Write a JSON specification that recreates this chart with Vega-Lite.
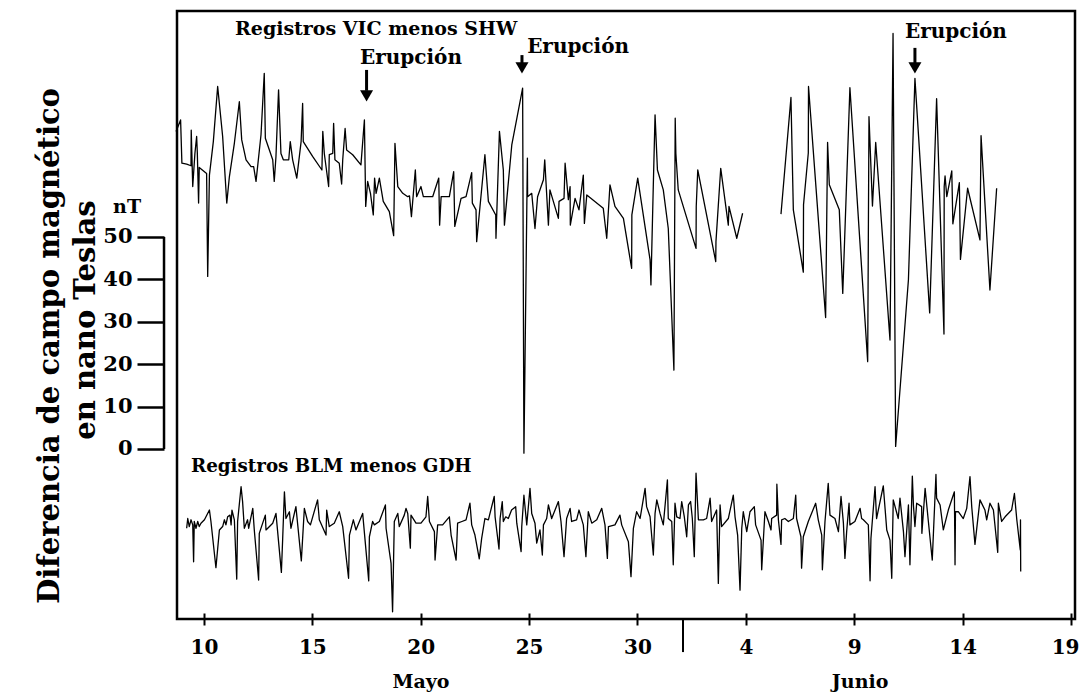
{
  "$schema": "https://vega.github.io/schema/vega-lite/v6.json",
  "width": 898,
  "height": 608,
  "autosize": {"type": "none"},
  "padding": {"left": 177, "top": 11, "right": 5, "bottom": 74},
  "background": "white",
  "config": {"view": {"stroke": "black", "strokeWidth": 2.5}, "font": "DejaVu Serif"},
  "datasets": {
    "series": [
      {"s":"a","d":8.71,"v":74.9},{"s":"a","d":8.92,"v":77.6},{"s":"a","d":8.98,"v":67.4},{"s":"a","d":9.20,"v":67.2},{"s":"a","d":9.40,"v":66.8},{"s":"a","d":9.41,"v":75.2},{"s":"a","d":9.48,"v":61.9},{"s":"a","d":9.58,"v":69.7},{"s":"a","d":9.66,"v":73.7},{"s":"a","d":9.69,"v":70.1},{"s":"a","d":9.75,"v":58.0},{"s":"a","d":9.78,"v":66.4},{"s":"a","d":10.12,"v":65.0},{"s":"a","d":10.17,"v":40.7},{"s":"a","d":10.25,"v":64.6},{"s":"a","d":10.43,"v":72.5},{"s":"a","d":10.63,"v":85.5},{"s":"a","d":10.86,"v":73.7},{"s":"a","d":11.05,"v":58.0},{"s":"a","d":11.17,"v":64.2},{"s":"a","d":11.40,"v":72.1},{"s":"a","d":11.63,"v":81.9},{"s":"a","d":11.74,"v":72.9},{"s":"a","d":11.94,"v":68.2},{"s":"a","d":12.17,"v":66.6},{"s":"a","d":12.29,"v":66.6},{"s":"a","d":12.40,"v":63.1},{"s":"a","d":12.63,"v":74.1},{"s":"a","d":12.78,"v":88.6},{"s":"a","d":12.83,"v":73.3},{"s":"a","d":13.17,"v":68.2},{"s":"a","d":13.24,"v":63.1},{"s":"a","d":13.32,"v":69.0},{"s":"a","d":13.44,"v":84.7},{"s":"a","d":13.55,"v":69.7},{"s":"a","d":13.66,"v":68.2},{"s":"a","d":13.91,"v":68.2},{"s":"a","d":13.98,"v":72.5},{"s":"a","d":14.09,"v":68.2},{"s":"a","d":14.28,"v":63.9},{"s":"a","d":14.48,"v":72.5},{"s":"a","d":14.55,"v":81.5},{"s":"a","d":14.58,"v":72.5},{"s":"a","d":15.01,"v":69.0},{"s":"a","d":15.44,"v":65.8},{"s":"a","d":15.48,"v":74.9},{"s":"a","d":15.55,"v":69.7},{"s":"a","d":15.75,"v":61.9},{"s":"a","d":15.78,"v":69.4},{"s":"a","d":15.94,"v":69.7},{"s":"a","d":15.98,"v":76.8},{"s":"a","d":16.04,"v":68.2},{"s":"a","d":16.24,"v":67.4},{"s":"a","d":16.35,"v":62.5},{"s":"a","d":16.40,"v":68.2},{"s":"a","d":16.51,"v":75.6},{"s":"a","d":16.58,"v":70.5},{"s":"a","d":16.86,"v":69.4},{"s":"a","d":17.24,"v":67.0},{"s":"a","d":17.40,"v":77.6},{"s":"a","d":17.46,"v":57.2},{"s":"a","d":17.55,"v":63.1},{"s":"a","d":17.68,"v":60.3},{"s":"a","d":17.81,"v":55.2},{"s":"a","d":17.87,"v":63.9},{"s":"a","d":17.94,"v":60.3},{"s":"a","d":18.09,"v":63.9},{"s":"a","d":18.27,"v":58.4},{"s":"a","d":18.55,"v":56.0},{"s":"a","d":18.75,"v":50.3},{"s":"a","d":18.81,"v":72.1},{"s":"a","d":18.94,"v":61.9},{"s":"a","d":19.17,"v":60.3},{"s":"a","d":19.40,"v":59.5},{"s":"a","d":19.48,"v":59.7},{"s":"a","d":19.57,"v":54.8},{"s":"a","d":19.75,"v":65.8},{"s":"a","d":19.81,"v":59.5},{"s":"a","d":20.01,"v":61.9},{"s":"a","d":20.12,"v":59.5},{"s":"a","d":20.55,"v":59.5},{"s":"a","d":20.83,"v":63.9},{"s":"a","d":20.87,"v":52.8},{"s":"a","d":20.94,"v":59.5},{"s":"a","d":21.32,"v":59.5},{"s":"a","d":21.52,"v":65.4},{"s":"a","d":21.57,"v":52.5},{"s":"a","d":21.86,"v":59.1},{"s":"a","d":22.09,"v":59.5},{"s":"a","d":22.35,"v":65.2},{"s":"a","d":22.38,"v":58.0},{"s":"a","d":22.55,"v":56.4},{"s":"a","d":22.58,"v":48.9},{"s":"a","d":22.96,"v":69.4},{"s":"a","d":23.12,"v":58.4},{"s":"a","d":23.46,"v":55.2},{"s":"a","d":23.47,"v":49.7},{"s":"a","d":23.63,"v":74.9},{"s":"a","d":23.81,"v":65.8},{"s":"a","d":23.86,"v":52.8},{"s":"a","d":24.20,"v":71.7},{"s":"a","d":24.70,"v":85.1},{"s":"a","d":24.76,"v":-1.0},{"s":"a","d":24.92,"v":68.6},{"s":"a","d":24.93,"v":59.5},{"s":"a","d":25.12,"v":60.3},{"s":"a","d":25.27,"v":52.0},{"s":"a","d":25.39,"v":59.5},{"s":"a","d":25.66,"v":63.5},{"s":"a","d":25.72,"v":68.2},{"s":"a","d":25.89,"v":52.8},{"s":"a","d":25.96,"v":61.1},{"s":"a","d":26.35,"v":54.4},{"s":"a","d":26.38,"v":58.4},{"s":"a","d":26.61,"v":59.1},{"s":"a","d":26.66,"v":67.4},{"s":"a","d":26.81,"v":58.8},{"s":"a","d":26.89,"v":61.9},{"s":"a","d":26.90,"v":52.8},{"s":"a","d":27.12,"v":59.1},{"s":"a","d":27.30,"v":56.4},{"s":"a","d":27.50,"v":64.6},{"s":"a","d":27.55,"v":53.2},{"s":"a","d":27.66,"v":59.9},{"s":"a","d":28.42,"v":56.8},{"s":"a","d":28.58,"v":49.7},{"s":"a","d":28.73,"v":62.3},{"s":"a","d":28.96,"v":57.2},{"s":"a","d":29.35,"v":54.4},{"s":"a","d":29.73,"v":42.6},{"s":"a","d":29.74,"v":55.2},{"s":"a","d":30.01,"v":63.9},{"s":"a","d":30.58,"v":44.6},{"s":"a","d":30.62,"v":38.7},{"s":"a","d":30.73,"v":62.3},{"s":"a","d":30.81,"v":78.8},{"s":"a","d":30.92,"v":65.8},{"s":"a","d":31.19,"v":61.1},{"s":"a","d":31.42,"v":52.0},{"s":"a","d":31.68,"v":18.6},{"s":"a","d":31.74,"v":78.0},{"s":"a","d":31.77,"v":69.7},{"s":"a","d":31.88,"v":61.1},{"s":"a","d":32.70,"v":47.3},{"s":"a","d":32.71,"v":57.2},{"s":"a","d":32.78,"v":65.8},{"s":"a","d":33.61,"v":44.2},{"s":"a","d":33.62,"v":48.9},{"s":"a","d":33.84,"v":66.2},{"s":"a","d":34.19,"v":52.8},{"s":"a","d":34.22,"v":57.2},{"s":"a","d":34.58,"v":49.7},{"s":"a","d":34.85,"v":55.6},
      {"s":"b","d":36.62,"v":55.4},{"s":"b","d":37.08,"v":82.9},{"s":"b","d":37.19,"v":56.4},{"s":"b","d":37.65,"v":41.7},{"s":"b","d":37.66,"v":57.6},{"s":"b","d":37.88,"v":69.8},{"s":"b","d":37.89,"v":85.5},{"s":"b","d":38.68,"v":31.0},{"s":"b","d":38.77,"v":72.3},{"s":"b","d":38.85,"v":62.3},{"s":"b","d":39.31,"v":56.4},{"s":"b","d":39.47,"v":36.7},{"s":"b","d":39.80,"v":85.2},{"s":"b","d":40.62,"v":20.6},{"s":"b","d":40.68,"v":78.4},{"s":"b","d":40.84,"v":57.3},{"s":"b","d":40.99,"v":72.3},{"s":"b","d":41.65,"v":25.7},{"s":"b","d":41.79,"v":98.0},{"s":"b","d":41.91,"v":0.6},{"s":"b","d":42.50,"v":39.9},{"s":"b","d":42.80,"v":87.4},{"s":"b","d":43.48,"v":32.1},{"s":"b","d":43.80,"v":82.6},{"s":"b","d":44.14,"v":27.1},{"s":"b","d":44.15,"v":61.9},{"s":"b","d":44.19,"v":64.4},{"s":"b","d":44.27,"v":59.5},{"s":"b","d":44.50,"v":65.6},{"s":"b","d":44.55,"v":53.1},{"s":"b","d":44.85,"v":62.8},{"s":"b","d":44.90,"v":44.7},{"s":"b","d":45.23,"v":61.5},{"s":"b","d":45.80,"v":49.3},{"s":"b","d":45.85,"v":73.9},{"s":"b","d":46.26,"v":37.5},{"s":"b","d":46.57,"v":61.5},
      {"s":"c","d":9.20,"v":-18.7},{"s":"c","d":9.25,"v":-16.4},{"s":"c","d":9.32,"v":-18.3},{"s":"c","d":9.40,"v":-16.7},{"s":"c","d":9.48,"v":-17.9},{"s":"c","d":9.52,"v":-26.6},{"s":"c","d":9.55,"v":-17.1},{"s":"c","d":9.63,"v":-18.7},{"s":"c","d":9.71,"v":-17.1},{"s":"c","d":9.78,"v":-18.3},{"s":"c","d":9.86,"v":-17.5},{"s":"c","d":10.02,"v":-16.7},{"s":"c","d":10.25,"v":-14.4},{"s":"c","d":10.32,"v":-17.1},{"s":"c","d":10.55,"v":-28.0},{"s":"c","d":10.71,"v":-19.1},{"s":"c","d":10.86,"v":-18.3},{"s":"c","d":10.94,"v":-16.7},{"s":"c","d":11.01,"v":-17.9},{"s":"c","d":11.09,"v":-16.0},{"s":"c","d":11.20,"v":-15.6},{"s":"c","d":11.25,"v":-17.9},{"s":"c","d":11.29,"v":-14.4},{"s":"c","d":11.40,"v":-16.7},{"s":"c","d":11.51,"v":-30.7},{"s":"c","d":11.55,"v":-17.1},{"s":"c","d":11.71,"v":-8.9},{"s":"c","d":11.78,"v":-12.4},{"s":"c","d":11.86,"v":-18.7},{"s":"c","d":12.01,"v":-16.7},{"s":"c","d":12.06,"v":-18.7},{"s":"c","d":12.25,"v":-14.0},{"s":"c","d":12.32,"v":-19.1},{"s":"c","d":12.52,"v":-30.9},{"s":"c","d":12.55,"v":-19.9},{"s":"c","d":12.83,"v":-15.6},{"s":"c","d":12.86,"v":-19.1},{"s":"c","d":13.17,"v":-17.5},{"s":"c","d":13.32,"v":-15.2},{"s":"c","d":13.57,"v":-29.1},{"s":"c","d":13.63,"v":-21.1},{"s":"c","d":13.71,"v":-10.1},{"s":"c","d":13.78,"v":-16.4},{"s":"c","d":13.94,"v":-14.8},{"s":"c","d":14.01,"v":-18.7},{"s":"c","d":14.24,"v":-13.6},{"s":"c","d":14.49,"v":-26.4},{"s":"c","d":14.63,"v":-14.0},{"s":"c","d":14.78,"v":-17.1},{"s":"c","d":14.91,"v":-17.9},{"s":"c","d":15.24,"v":-12.0},{"s":"c","d":15.32,"v":-16.7},{"s":"c","d":15.63,"v":-20.3},{"s":"c","d":15.66,"v":-14.4},{"s":"c","d":15.78,"v":-18.3},{"s":"c","d":16.01,"v":-17.5},{"s":"c","d":16.24,"v":-14.8},{"s":"c","d":16.40,"v":-18.3},{"s":"c","d":16.67,"v":-30.5},{"s":"c","d":16.71,"v":-20.3},{"s":"c","d":16.89,"v":-16.7},{"s":"c","d":17.01,"v":-19.1},{"s":"c","d":17.32,"v":-15.2},{"s":"c","d":17.60,"v":-31.1},{"s":"c","d":17.63,"v":-20.7},{"s":"c","d":17.78,"v":-17.1},{"s":"c","d":17.86,"v":-17.9},{"s":"c","d":18.09,"v":-17.1},{"s":"c","d":18.37,"v":-13.2},{"s":"c","d":18.40,"v":-18.7},{"s":"c","d":18.63,"v":-27.0},{"s":"c","d":18.70,"v":-38.4},{"s":"c","d":18.78,"v":-17.1},{"s":"c","d":18.94,"v":-15.2},{"s":"c","d":19.01,"v":-18.3},{"s":"c","d":19.24,"v":-15.6},{"s":"c","d":19.32,"v":-14.0},{"s":"c","d":19.40,"v":-15.2},{"s":"c","d":19.52,"v":-23.4},{"s":"c","d":19.55,"v":-15.6},{"s":"c","d":19.78,"v":-17.5},{"s":"c","d":20.01,"v":-17.5},{"s":"c","d":20.24,"v":-16.0},{"s":"c","d":20.32,"v":-11.2},{"s":"c","d":20.40,"v":-17.1},{"s":"c","d":20.63,"v":-19.5},{"s":"c","d":20.66,"v":-26.2},{"s":"c","d":20.78,"v":-17.9},{"s":"c","d":21.01,"v":-17.9},{"s":"c","d":21.32,"v":-16.0},{"s":"c","d":21.40,"v":-20.3},{"s":"c","d":21.63,"v":-26.2},{"s":"c","d":21.70,"v":-17.5},{"s":"c","d":21.90,"v":-17.1},{"s":"c","d":22.09,"v":-16.7},
      {"s":"c","d":22.27,"v":-12.8},{"s":"c","d":22.35,"v":-17.9},{"s":"c","d":22.50,"v":-20.3},{"s":"c","d":22.70,"v":-25.9},{"s":"c","d":22.81,"v":-21.1},{"s":"c","d":22.96,"v":-16.4},{"s":"c","d":23.12,"v":-16.7},{"s":"c","d":23.39,"v":-11.2},{"s":"c","d":23.43,"v":-16.0},{"s":"c","d":23.61,"v":-23.6},{"s":"c","d":23.66,"v":-16.4},{"s":"c","d":23.76,"v":-12.4},{"s":"c","d":23.81,"v":-17.1},{"s":"c","d":23.92,"v":-16.0},{"s":"c","d":24.04,"v":-16.4},{"s":"c","d":24.19,"v":-14.4},{"s":"c","d":24.38,"v":-13.6},{"s":"c","d":24.43,"v":-17.5},{"s":"c","d":24.63,"v":-24.2},{"s":"c","d":24.66,"v":-18.3},{"s":"c","d":24.76,"v":-10.9},{"s":"c","d":24.89,"v":-17.9},{"s":"c","d":25.04,"v":-9.3},{"s":"c","d":25.12,"v":-15.2},{"s":"c","d":25.27,"v":-17.5},{"s":"c","d":25.35,"v":-22.2},{"s":"c","d":25.50,"v":-19.1},{"s":"c","d":25.61,"v":-25.0},{"s":"c","d":25.66,"v":-17.9},{"s":"c","d":25.81,"v":-16.4},{"s":"c","d":25.89,"v":-13.2},{"s":"c","d":26.04,"v":-16.4},{"s":"c","d":26.35,"v":-12.4},{"s":"c","d":26.47,"v":-17.1},{"s":"c","d":26.61,"v":-25.4},{"s":"c","d":26.73,"v":-16.4},{"s":"c","d":26.89,"v":-14.0},{"s":"c","d":26.96,"v":-17.1},{"s":"c","d":27.19,"v":-16.7},{"s":"c","d":27.30,"v":-14.4},{"s":"c","d":27.50,"v":-17.9},{"s":"c","d":27.62,"v":-25.4},{"s":"c","d":27.73,"v":-14.8},{"s":"c","d":27.89,"v":-17.5},{"s":"c","d":28.12,"v":-16.7},{"s":"c","d":28.35,"v":-14.0},{"s":"c","d":28.50,"v":-17.9},{"s":"c","d":28.61,"v":-25.8},{"s":"c","d":28.66,"v":-18.3},{"s":"c","d":28.96,"v":-17.9},{"s":"c","d":29.19,"v":-15.6},{"s":"c","d":29.27,"v":-17.9},{"s":"c","d":29.58,"v":-21.9},{"s":"c","d":29.70,"v":-30.1},{"s":"c","d":29.81,"v":-18.7},{"s":"c","d":29.96,"v":-14.8},{"s":"c","d":30.12,"v":-16.4},{"s":"c","d":30.35,"v":-9.3},{"s":"c","d":30.42,"v":-13.6},{"s":"c","d":30.58,"v":-16.0},{"s":"c","d":30.73,"v":-25.0},{"s":"c","d":30.81,"v":-15.2},{"s":"c","d":30.89,"v":-12.0},{"s":"c","d":31.04,"v":-15.2},{"s":"c","d":31.19,"v":-17.9},{"s":"c","d":31.38,"v":-7.3},{"s":"c","d":31.42,"v":-16.4},{"s":"c","d":31.58,"v":-17.1},{"s":"c","d":31.65,"v":-27.3},{"s":"c","d":31.73,"v":-12.8},{"s":"c","d":31.81,"v":-16.0},{"s":"c","d":31.96,"v":-16.4},{"s":"c","d":32.04,"v":-12.4},{"s":"c","d":32.16,"v":-16.0},{"s":"c","d":32.27,"v":-20.7},{"s":"c","d":32.35,"v":-13.2},{"s":"c","d":32.45,"v":-12.4},{"s":"c","d":32.53,"v":-16.4},{"s":"c","d":32.62,"v":-25.4},{"s":"c","d":32.70,"v":-5.7},{"s":"c","d":32.81,"v":-16.7},{"s":"c","d":33.04,"v":-16.7},{"s":"c","d":33.19,"v":-16.4},{"s":"c","d":33.35,"v":-11.6},{"s":"c","d":33.42,"v":-17.1},{"s":"c","d":33.65,"v":-14.4},{"s":"c","d":33.73,"v":-31.7},{"s":"c","d":33.81,"v":-13.2},{"s":"c","d":33.88,"v":-18.3},{"s":"c","d":34.19,"v":-16.4},{"s":"c","d":34.42,"v":-10.9},{"s":"c","d":34.50,"v":-16.0},{"s":"c","d":34.62,"v":-20.3},{"s":"c","d":34.73,"v":-33.3},{"s":"c","d":34.81,"v":-18.7},
      {"s":"c","d":34.88,"v":-14.8},{"s":"c","d":35.04,"v":-19.5},{"s":"c","d":35.19,"v":-14.8},{"s":"c","d":35.39,"v":-13.6},{"s":"c","d":35.45,"v":-17.9},{"s":"c","d":35.70,"v":-21.5},{"s":"c","d":35.73,"v":-28.5},{"s":"c","d":35.88,"v":-14.8},{"s":"c","d":36.04,"v":-17.1},{"s":"c","d":36.16,"v":-19.1},{"s":"c","d":36.19,"v":-16.4},{"s":"c","d":36.42,"v":-15.6},{"s":"c","d":36.43,"v":-8.3},{"s":"c","d":36.50,"v":-16.7},{"s":"c","d":36.62,"v":-22.5},{"s":"c","d":36.65,"v":-16.7},{"s":"c","d":36.80,"v":-16.4},{"s":"c","d":36.96,"v":-17.1},{"s":"c","d":37.19,"v":-16.4},{"s":"c","d":37.30,"v":-10.9},{"s":"c","d":37.34,"v":-16.4},{"s":"c","d":37.54,"v":-20.7},{"s":"c","d":37.57,"v":-28.1},{"s":"c","d":37.65,"v":-20.7},{"s":"c","d":37.88,"v":-17.1},{"s":"c","d":38.22,"v":-12.8},{"s":"c","d":38.34,"v":-16.7},{"s":"c","d":38.50,"v":-20.3},{"s":"c","d":38.53,"v":-28.5},{"s":"c","d":38.65,"v":-17.1},{"s":"c","d":38.80,"v":-8.1},{"s":"c","d":38.88,"v":-15.6},{"s":"c","d":39.11,"v":-16.4},{"s":"c","d":39.27,"v":-19.5},{"s":"c","d":39.39,"v":-11.2},{"s":"c","d":39.50,"v":-17.5},{"s":"c","d":39.57,"v":-25.8},{"s":"c","d":39.65,"v":-19.5},{"s":"c","d":39.76,"v":-12.8},{"s":"c","d":39.80,"v":-17.9},{"s":"c","d":40.03,"v":-17.1},{"s":"c","d":40.27,"v":-14.0},{"s":"c","d":40.34,"v":-16.4},{"s":"c","d":40.42,"v":-16.7},{"s":"c","d":40.65,"v":-17.9},{"s":"c","d":40.73,"v":-31.1},{"s":"c","d":40.77,"v":-21.1},{"s":"c","d":40.96,"v":-8.9},{"s":"c","d":41.03,"v":-16.4},{"s":"c","d":41.34,"v":-8.7},{"s":"c","d":41.50,"v":-19.1},{"s":"c","d":41.65,"v":-21.5},{"s":"c","d":41.73,"v":-30.5},{"s":"c","d":41.80,"v":-12.0},{"s":"c","d":42.03,"v":-16.4},{"s":"c","d":42.11,"v":-11.6},{"s":"c","d":42.27,"v":-19.5},{"s":"c","d":42.34,"v":-25.4},{"s":"c","d":42.50,"v":-13.2},{"s":"c","d":42.57,"v":-27.3},{"s":"c","d":42.68,"v":-6.4},{"s":"c","d":42.73,"v":-13.2},{"s":"c","d":42.80,"v":-18.3},{"s":"c","d":42.88,"v":-12.8},{"s":"c","d":43.11,"v":-13.6},{"s":"c","d":43.12,"v":-19.9},{"s":"c","d":43.27,"v":-9.3},{"s":"c","d":43.42,"v":-17.1},{"s":"c","d":43.60,"v":-26.2},{"s":"c","d":43.77,"v":-6.0},{"s":"c","d":43.80,"v":-11.6},{"s":"c","d":43.96,"v":-13.2},{"s":"c","d":44.11,"v":-19.1},{"s":"c","d":44.34,"v":-14.4},{"s":"c","d":44.62,"v":-10.1},{"s":"c","d":44.65,"v":-27.3},{"s":"c","d":44.67,"v":-14.8},{"s":"c","d":44.80,"v":-14.8},{"s":"c","d":45.03,"v":-16.4},{"s":"c","d":45.19,"v":-14.0},{"s":"c","d":45.34,"v":-6.5},{"s":"c","d":45.42,"v":-13.6},{"s":"c","d":45.57,"v":-22.5},{"s":"c","d":45.80,"v":-12.0},{"s":"c","d":46.03,"v":-14.4},{"s":"c","d":46.11,"v":-16.7},{"s":"c","d":46.26,"v":-12.8},{"s":"c","d":46.42,"v":-14.4},{"s":"c","d":46.62,"v":-24.4},{"s":"c","d":46.65,"v":-12.8},{"s":"c","d":46.80,"v":-17.1},{"s":"c","d":46.96,"v":-16.0},{"s":"c","d":47.26,"v":-14.4},{"s":"c","d":47.39,"v":-10.5},{"s":"c","d":47.50,"v":-16.7},{"s":"c","d":47.66,"v":-23.8},{"s":"c","d":47.67,"v":-16.7},{"s":"c","d":47.68,"v":-28.9}
    ]
  },
  "layer": [
    {
      "data": {"name": "series"},
      "mark": {"type": "line", "color": "black", "strokeWidth": 1.3, "strokeJoin": "round"},
      "encoding": {
        "x": {
          "field": "d", "type": "quantitative",
          "scale": {"domain": [8.754, 50.185], "nice": false, "zero": false},
          "axis": {
            "values": [10, 15, 20, 25, 30, 35, 40, 45, 50],
            "labelExpr": "datum.value > 31 ? '' + (datum.value - 31) : '' + datum.value",
            "domain": false, "grid": false, "offset": -6, "tickSize": 12, "tickWidth": 2, "tickColor": "black",
            "labelFont": "DejaVu Serif", "labelFontWeight": "bold", "labelFontSize": 20, "labelColor": "black",
            "labelPadding": 12, "labelFlush": false, "labelOverlap": false, "title": null,
            "labelAlign": {"condition": {"test": "datum.value == 50", "value": "right"}, "value": "center"},
            "labelOffset": {"condition": {"test": "datum.value == 50", "value": 8}, "value": 0}
          }
        },
        "y": {
          "field": "v", "type": "quantitative",
          "scale": {"domain": [-40.1, 103.3], "nice": false, "zero": false},
          "axis": {
            "values": [0, 10, 20, 30, 40, 50],
            "domain": false, "grid": false, "offset": 13, "tickSize": 27, "tickWidth": 2.5, "tickColor": "black",
            "labelFont": "DejaVu Serif", "labelFontWeight": "bold", "labelFontSize": 21, "labelColor": "black",
            "labelPadding": 5, "labelFlush": false, "labelOverlap": false, "title": null
          }
        },
        "detail": {"field": "s", "type": "nominal"}
      }
    },
    {
      "data": {"values": [{}]},
      "mark": {"type": "rule", "color": "black", "strokeWidth": 2.5},
      "encoding": {"x": {"datum": 8.155}, "y": {"datum": 0}, "y2": {"datum": 50}}
    },
    {
      "data": {"values": [{}]},
      "mark": {"type": "rule", "color": "black", "strokeWidth": 2},
      "encoding": {"x": {"datum": 32.1}, "y": {"datum": -40.1}, "y2": {"datum": -47.9}}
    },
    {
      "data": {"values": [
        {"d": 17.5, "a": 89.4, "b": 84.5},
        {"d": 24.67, "a": 92.9, "b": 90.5},
        {"d": 42.8, "a": 94.6, "b": 91.0}
      ]},
      "mark": {"type": "rule", "color": "black", "strokeWidth": 3},
      "encoding": {
        "x": {"field": "d", "type": "quantitative"},
        "y": {"field": "a", "type": "quantitative"},
        "y2": {"field": "b"}
      }
    },
    {
      "data": {"values": [
        {"d": 17.5, "v": 83.3},
        {"d": 24.67, "v": 89.9},
        {"d": 42.8, "v": 89.9}
      ]},
      "mark": {"type": "point", "shape": "triangle-down", "filled": true, "color": "black", "size": 170, "opacity": 1},
      "encoding": {
        "x": {"field": "d", "type": "quantitative"},
        "y": {"field": "v", "type": "quantitative"}
      }
    },
    {
      "data": {"values": [
        {"t": "Registros VIC menos SHW", "d": 11.43, "v": 99.0}
      ]},
      "mark": {"type": "text", "align": "left", "baseline": "middle", "font": "DejaVu Serif", "fontWeight": "bold", "fontSize": 19, "color": "black"},
      "encoding": {
        "x": {"field": "d", "type": "quantitative"},
        "y": {"field": "v", "type": "quantitative"},
        "text": {"field": "t"}
      }
    },
    {
      "data": {"values": [
        {"t": "Registros BLM menos GDH", "d": 9.4, "v": -4.25}
      ]},
      "mark": {"type": "text", "align": "left", "baseline": "middle", "font": "DejaVu Serif", "fontWeight": "bold", "fontSize": 18.3, "color": "black"},
      "encoding": {
        "x": {"field": "d", "type": "quantitative"},
        "y": {"field": "v", "type": "quantitative"},
        "text": {"field": "t"}
      }
    },
    {
      "data": {"values": [
        {"t": "Erupción", "d": 19.55, "v": 92.2},
        {"t": "Erupción", "d": 27.26, "v": 94.8},
        {"t": "Erupción", "d": 44.69, "v": 98.3}
      ]},
      "mark": {"type": "text", "align": "center", "baseline": "middle", "font": "DejaVu Serif", "fontWeight": "bold", "fontSize": 20, "color": "black"},
      "encoding": {
        "x": {"field": "d", "type": "quantitative"},
        "y": {"field": "v", "type": "quantitative"},
        "text": {"field": "t"}
      }
    },
    {
      "data": {"values": [
        {"t": "Mayo", "d": 20.01, "v": -55.0},
        {"t": "Junio", "d": 40.27, "v": -55.0},
        {"t": "nT", "d": 6.45, "v": 57.1}
      ]},
      "mark": {"type": "text", "align": "center", "baseline": "middle", "font": "DejaVu Serif", "fontWeight": "bold", "fontSize": 19, "color": "black"},
      "encoding": {
        "x": {"field": "d", "type": "quantitative"},
        "y": {"field": "v", "type": "quantitative"},
        "text": {"field": "t"}
      }
    },
    {
      "data": {"values": [
        {"t": "Diferencia de campo magnético", "d": 2.9, "v": 24.3},
        {"t": "en nano Teslas", "d": 4.56, "v": 30.4}
      ]},
      "mark": {"type": "text", "align": "center", "baseline": "middle", "angle": 270, "font": "DejaVu Serif", "fontWeight": "bold", "fontSize": 29, "color": "black"},
      "encoding": {
        "x": {"field": "d", "type": "quantitative"},
        "y": {"field": "v", "type": "quantitative"},
        "text": {"field": "t"}
      }
    }
  ]
}
